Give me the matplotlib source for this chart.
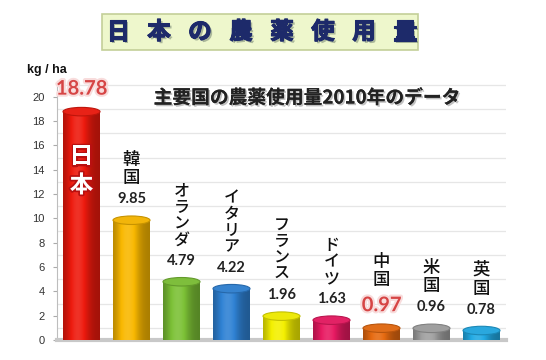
import numpy as np
import matplotlib
matplotlib.use("Agg")
import matplotlib.pyplot as plt
from matplotlib.patches import Ellipse, FancyBboxPatch
import matplotlib.patheffects as pe
from matplotlib.colors import to_rgb

plt.rcParams['font.family'] = ['Noto Sans CJK JP', 'DejaVu Sans']

# ---- data ----
countries = ['日本', '韓国', 'オランダ', 'イタリア', 'フランス', 'ドイツ', '中国', '米国', '英国']
values = [18.78, 9.85, 4.79, 4.22, 1.96, 1.63, 0.97, 0.96, 0.78]
colors = ['#ee1a0e', '#f9b800', '#7cc136', '#2f82d4', '#f4f000',
          '#e81a62', '#e66a10', '#a0a0a0', '#22aae4']
highlight = ['日本', '中国']
yticks = [0, 2, 4, 6, 8, 10, 12, 14, 16, 18, 20]
title = '日本の農薬使用量'
subtitle = '主要国の農薬使用量2010年のデータ'
unit = 'kg / ha'

W, H = 546, 360
fig = plt.figure(figsize=(W / 100, H / 100), dpi=100)
fig.patch.set_facecolor('white')
ax = fig.add_axes([57 / W, 20 / H, 449 / W, 259 / H])
ax.set_xlim(-0.49, 8.49)
ax.set_ylim(0, 21.3)

# back-wall gridlines (offset like a 3D chart)
for g in [t + 1 for t in yticks]:
    ax.axhline(g, color='#e6e6e6', lw=0.9, zorder=0)

bw = 0.74
xs = np.arange(len(values))


def shade_img(rgb, n=64):
    t = np.linspace(0, 1, n)
    k = 0.68 + 0.45 * np.exp(-((t - 0.4) / 0.3) ** 2)
    img = np.zeros((1, n, 3))
    for i, kk in enumerate(k):
        c = np.array(rgb) * min(kk, 1.0)
        if kk > 1.0:
            c = c + (1 - c) * (kk - 1.0) * 0.8
        img[0, i] = np.clip(c, 0, 1)
    return img


eh = 0.7  # ellipse height in data units
for x, v, c in zip(xs, values, colors):
    rgb = to_rgb(c)
    bars = ax.bar(x, v, width=bw, color=c, edgecolor='none', zorder=3)
    img = ax.imshow(shade_img(rgb), extent=(x - bw / 2, x + bw / 2, 0, v),
                    aspect='auto', zorder=3, interpolation='bicubic')
    img.set_clip_path(bars[0])
    top_rgb = tuple(np.clip(np.array(rgb) * 0.93 + 0.04, 0, 1))
    top = Ellipse((x, v), bw, eh, facecolor=top_rgb,
                  edgecolor=tuple(np.array(rgb) * 0.8), lw=0.8, zorder=4)
    ax.add_patch(top)

ax.set_xlim(-0.49, 8.49)
ax.set_ylim(0, 21.3)

# labels
for x, v, name in zip(xs, values, countries):
    lab = f'{v:.2f}'
    if name in highlight:
        ax.annotate(lab, (x, v), xytext=(0, 23), textcoords='offset pixels',
                    ha='center', va='center', fontsize=14.5, fontweight='bold',
                    family=['Lato', 'DejaVu Sans'], color='#d64545', zorder=6,
                    annotation_clip=False,
                    path_effects=[pe.withStroke(linewidth=3, foreground='#f8dcdc')])
    else:
        ax.annotate(lab, (x, v), xytext=(0, 21), textcoords='offset pixels',
                    ha='center', va='center', fontsize=10.5, fontweight='bold',
                    family=['Lato', 'DejaVu Sans'], color='#222222', zorder=6,
                    annotation_clip=False)
    if name == '日本':
        ax.text(x, 13.9, '\n'.join(name), ha='center', va='center',
                fontsize=17, fontweight='bold', color='white', linespacing=1.25,
                zorder=6, path_effects=[pe.withStroke(linewidth=2.5, foreground='#b81010')])
    else:
        kata = not name.endswith('国')
        off = 39 if name in highlight else 33
        ax.annotate('\n'.join(name), (x, v), xytext=(0, off),
                    textcoords='offset pixels', ha='center', va='bottom',
                    fontsize=11.5 if kata else 12.5, fontweight='medium',
                    color='#111111', linespacing=0.95 if kata else 1.05,
                    zorder=6, annotation_clip=False)

# axes styling
ax.set_xticks([])
ax.set_yticks(yticks)
ax.set_yticklabels([str(t) for t in yticks], fontsize=8, color='#333333',
                   family=['Liberation Sans', 'DejaVu Sans'])
ax.tick_params(axis='y', length=3, color='#aaaaaa', pad=6)
for s in ['top', 'right']:
    ax.spines[s].set_visible(False)
ax.spines['left'].set_color('#bdbdbd')
ax.spines['left'].set_linewidth(0.8)
ax.spines['bottom'].set_color('#c8c8c8')
ax.spines['bottom'].set_linewidth(3)
ax.set_facecolor('white')

# unit label
fig.text(27 / W, 1 - 70 / H, unit, ha='left', va='center', fontsize=9,
         fontweight='bold', color='#111111', family=['Liberation Sans', 'DejaVu Sans'])

# subtitle
fig.text(307 / W, 1 - 98 / H, subtitle, ha='center', va='center', fontsize=13.5,
         fontweight='bold', color='#222222',
         path_effects=[pe.withSimplePatchShadow(offset=(1.2, -1.2), shadow_rgbFace='#999999', alpha=0.6),
                       pe.Normal()])

# title box
box = FancyBboxPatch((102 / W, 1 - 50 / H), 316 / W, 36 / H,
                     boxstyle='square,pad=0', transform=fig.transFigure,
                     facecolor='#eef7cc', edgecolor='#c3cf98', lw=1.2, zorder=1)
fig.patches.append(box)
n = len(title)
for i, ch in enumerate(title):
    px = 118 + i * (405 - 118) / (n - 1)
    fig.text(px / W, 1 - 32 / H, ch, ha='center', va='center', fontsize=17,
             fontweight='bold', color='#1d2a6a', zorder=3,
             path_effects=[pe.withSimplePatchShadow(offset=(1.5, -1.5), shadow_rgbFace='#6a7a6a', alpha=0.5),
                           pe.withStroke(linewidth=0.8, foreground='#1d2a6a'),
                           pe.Normal()])

fig.savefig('out.png', dpi=100)
